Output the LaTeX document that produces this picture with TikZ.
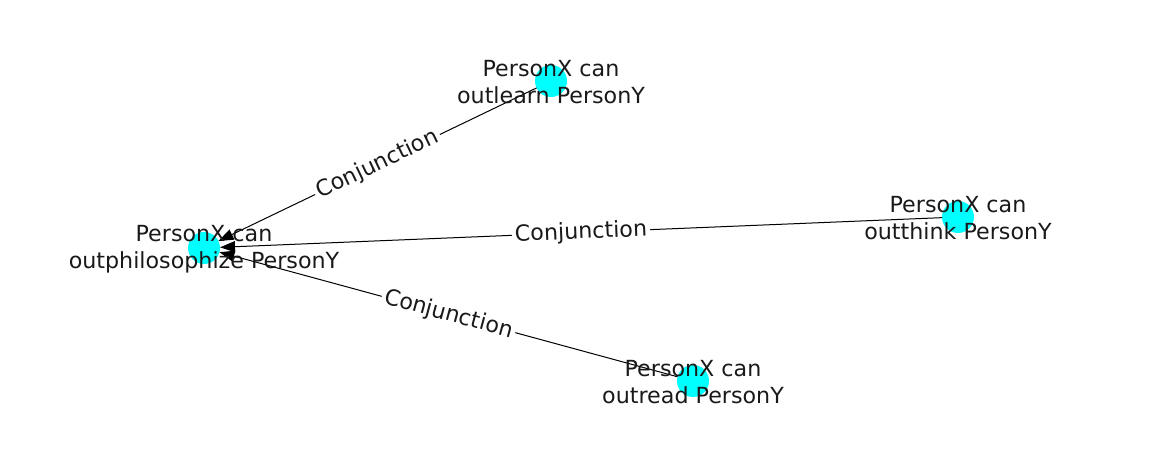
\documentclass[tikz,border=0pt]{standalone}
\usepackage{fontspec}
\setmainfont{DejaVu Sans}
\usetikzlibrary{
    arrows.meta,
    positioning
}
\definecolor{aqua}{RGB}{0,255,255}
\tikzset{
    >={Triangle[length=15pt,width=11pt]},
    ent/.style={circle, fill=aqua, minimum size=32pt, inner sep=0pt, outer sep=0pt},
    txt/.style={align=center, text=black!90, font=\fontsize{22.2}{26.5}\selectfont},
    rel/.style={fill=white, inner sep=3pt, sloped, text=black!90, font=\fontsize{22.2}{26.5}\selectfont},
}

\begin{document}
\begin{tikzpicture}[x=1pt,y=-1pt]
   \useasboundingbox (0,0) rectangle (1162,462);
   \node[ent] (n_0) at (204,248) {};
   \node[ent] (n_1) at (551,81) {};
   \node[ent] (n_2) at (958,217) {};
   \node[ent] (n_3) at (693,381) {};
    \path[->, line width=1pt]
    (n_1) edge node[rel] {Conjunction} (n_0)
    (n_2) edge node[rel] {Conjunction} (n_0)
    (n_3) edge node[rel] {Conjunction} (n_0);
   \node[txt] at ([yshift=-1pt]n_0) {PersonX can\\outphilosophize PersonY};
   \node[txt] at ([yshift=-1pt]n_1) {PersonX can\\outlearn PersonY};
   \node[txt] at ([yshift=-1pt]n_2) {PersonX can\\outthink PersonY};
   \node[txt] at ([yshift=-1pt]n_3) {PersonX can\\outread PersonY};
\end{tikzpicture}
\end{document}
